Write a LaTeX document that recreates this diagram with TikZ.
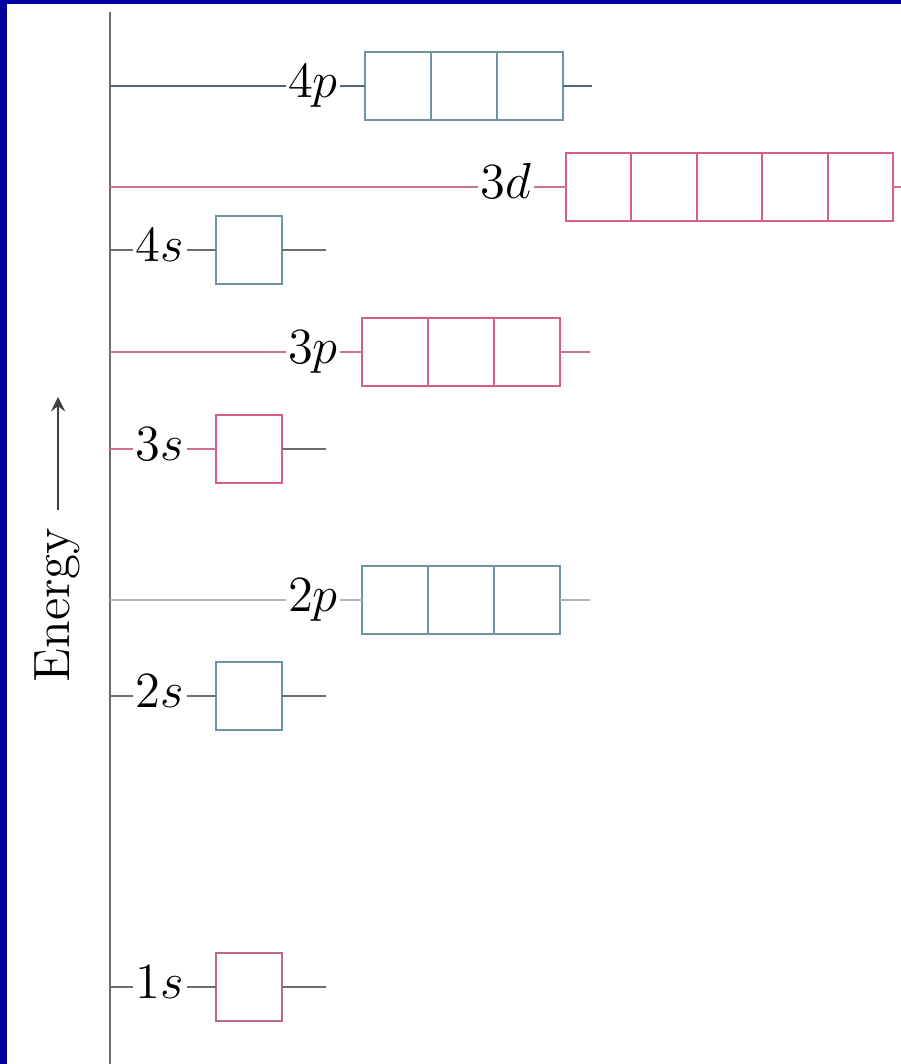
\documentclass[tikz,border=0pt]{standalone}
\usepackage{tikz}
\usetikzlibrary{positioning}
\usepackage{xcolor}

\definecolor{frameblue}{RGB}{0,0,160}
\definecolor{tealbox}{RGB}{110,150,160}
\definecolor{pinkbox}{RGB}{215,95,130}
\definecolor{axisgray}{RGB}{110,110,110}
\definecolor{slateline}{RGB}{85,100,120}
\definecolor{pinkline}{RGB}{205,115,145}
\definecolor{lightline}{RGB}{180,180,180}
\definecolor{tickgray}{RGB}{110,110,110}

\tikzset{
  lbl/.style={inner sep=0.5pt, text height=1.5ex, text depth=0pt, font=\fontsize{14.5}{16}\selectfont},
  cell/.style={draw, fill=white, line width=0.6pt, minimum width=0.66cm, minimum height=0.68cm, inner sep=0pt, outer sep=0pt},
  lvl/.style={line width=0.6pt}
}

\begin{document}
\begin{tikzpicture}[x=0.01cm, y=-0.01cm, >=stealth]

    % Frame
    \fill[frameblue] (0,0) rectangle (901,1064);
    \fill[white] (7,4) rectangle (901,1064);
    \useasboundingbox (0,0) rectangle (901,1064);

    % Energy axis
    \coordinate (axtop) at (110,12);
    \coordinate (axbot) at (110,1064);
    \draw[axisgray, line width=0.6pt] (axtop) -- (axbot);

    % Energy label and arrow
    \node[lbl, rotate=90] at (58,605) (energy) {Energy};
    \coordinate (arrbase) at (58,510);
    \coordinate (arrtip) at (58,397);
    \draw[->, black!75, line width=0.8pt] (arrbase) -- (arrtip);

    % 4p
    \node[lbl] at (313,86) (l4p) {$4p$};
    \foreach \i in {1,...,3}
      \node[cell, draw=tealbox] at ({332+66*\i},86) (c4p\i) {};
    \coordinate (t4p) at (592,86);
    \draw[lvl, slateline] (l4p -| axtop) -- (l4p);
    \draw[lvl, slateline] (l4p) -- (c4p1);
    \draw[lvl, slateline] (c4p3) -- (t4p);

    % 3d
    \node[lbl] at (506,187) (l3d) {$3d$};
    \foreach \i in {1,...,5}
      \node[cell, draw=pinkbox, minimum width=0.654cm] at ({533.3+65.4*\i},187) (c3d\i) {};
    \coordinate (t3d) at (901,187);
    \draw[lvl, pinkline] (l3d -| axtop) -- (l3d);
    \draw[lvl, pinkline] (l3d) -- (c3d1);
    \draw[lvl, pinkline] (c3d5) -- (t3d);

    % 4s
    \node[lbl] at (160,250) (l4s) {$4s$};
    \node[cell, draw=tealbox] at (249,250) (c4s) {};
    \coordinate (t4s) at (326,250);
    \draw[lvl, tickgray] (l4s -| axtop) -- (l4s);
    \draw[lvl, tickgray] (l4s) -- (c4s);
    \draw[lvl, tickgray] (c4s) -- (t4s);

    % 3p
    \node[lbl] at (313,352) (l3p) {$3p$};
    \foreach \i in {1,...,3}
      \node[cell, draw=pinkbox] at ({329+66*\i},352) (c3p\i) {};
    \coordinate (t3p) at (590,352);
    \draw[lvl, pinkline] (l3p -| axtop) -- (l3p);
    \draw[lvl, pinkline] (l3p) -- (c3p1);
    \draw[lvl, pinkline] (c3p3) -- (t3p);

    % 3s
    \node[lbl] at (160,449) (l3s) {$3s$};
    \node[cell, draw=pinkbox] at (249,449) (c3s) {};
    \coordinate (t3s) at (326,449);
    \draw[lvl, pinkline] (l3s -| axtop) -- (l3s);
    \draw[lvl, pinkline] (l3s) -- (c3s);
    \draw[lvl, tickgray] (c3s) -- (t3s);

    % 2p
    \node[lbl] at (313,600) (l2p) {$2p$};
    \foreach \i in {1,...,3}
      \node[cell, draw=tealbox] at ({329+66*\i},600) (c2p\i) {};
    \coordinate (t2p) at (590,600);
    \draw[lvl, lightline] (l2p -| axtop) -- (l2p);
    \draw[lvl, lightline] (l2p) -- (c2p1);
    \draw[lvl, lightline] (c2p3) -- (t2p);

    % 2s
    \node[lbl] at (160,696) (l2s) {$2s$};
    \node[cell, draw=tealbox] at (249,696) (c2s) {};
    \coordinate (t2s) at (326,696);
    \draw[lvl, tickgray] (l2s -| axtop) -- (l2s);
    \draw[lvl, tickgray] (l2s) -- (c2s);
    \draw[lvl, tickgray] (c2s) -- (t2s);

    % 1s
    \node[lbl] at (160,987) (l1s) {$1s$};
    \node[cell, draw=pinkbox!70!gray] at (249,987) (c1s) {};
    \coordinate (t1s) at (326,987);
    \draw[lvl, tickgray] (l1s -| axtop) -- (l1s);
    \draw[lvl, tickgray] (l1s) -- (c1s);
    \draw[lvl, tickgray] (c1s) -- (t1s);

\end{tikzpicture}
\end{document}
